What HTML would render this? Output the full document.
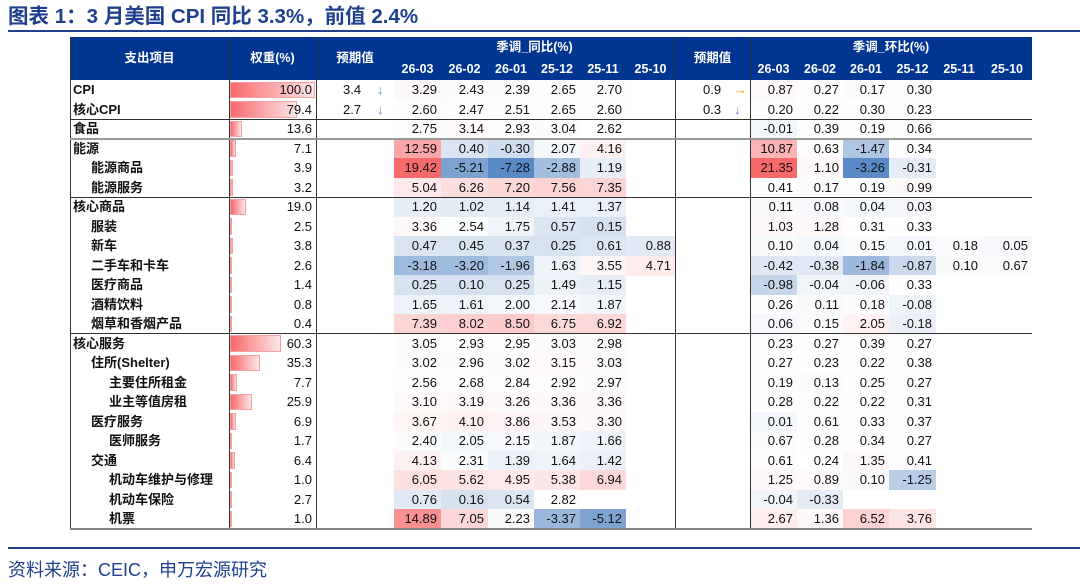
<!DOCTYPE html>
<html><head><meta charset="utf-8">
<style>
body{margin:0;width:1080px;height:588px;background:#fff;position:relative;overflow:hidden;font-family:"Liberation Sans","Noto Sans CJK SC",sans-serif;}
.a{position:absolute;box-sizing:border-box;}
.t{position:absolute;font-size:13px;color:#111;line-height:19.5px;white-space:nowrap;}
.h{position:absolute;color:#fff;font-weight:bold;font-size:12.5px;text-align:center;line-height:20px;}
</style></head><body>
<div class="a" style="left:8px;top:3px;font-size:20.5px;font-weight:bold;color:#1f3f8f;line-height:28px;white-space:nowrap;">图表 1：3 月美国 CPI 同比 3.3%，前值 2.4%</div>
<div class="a" style="left:8px;top:30px;width:1072px;height:2px;background:#1f3f8f"></div>
<div class="a" style="left:70px;top:37px;width:962px;height:43px;background:#003591"></div>
<div class="h" style="left:70px;top:48px;width:159px">支出项目</div>
<div class="h" style="left:229px;top:48px;width:87px">权重(%)</div>
<div class="h" style="left:316px;top:48px;width:78px">预期值</div>
<div class="h" style="left:394px;top:37px;width:281px">季调_同比(%)</div>
<div class="h" style="left:675px;top:48px;width:75px">预期值</div>
<div class="h" style="left:750px;top:37px;width:282px">季调_环比(%)</div>
<div id="tbl"></div>
<div class="a" style="left:8px;top:547px;width:1072px;height:2px;background:#1f3f8f"></div>
<div class="a" style="left:8px;top:557px;font-size:18px;color:#1f3f8f;line-height:26px;white-space:nowrap;">资料来源：CEIC，申万宏源研究</div>
<script>
const dates=["26-03","26-02","26-01","25-12","25-11","25-10"];
const names=["CPI","核心CPI","食品","能源","能源商品","能源服务","核心商品","服装","新车","二手车和卡车","医疗商品","酒精饮料","烟草和香烟产品","核心服务","住所(Shelter)","主要住所租金","业主等值房租","医疗服务","医师服务","交通","机动车维护与修理","机动车保险","机票"];
const levels=[0,0,0,0,1,1,0,1,1,1,1,1,1,0,1,2,2,1,2,1,2,2,2];
const weights=[100.0,79.4,13.6,7.1,3.9,3.2,19.0,2.5,3.8,2.6,1.4,0.8,0.4,60.3,35.3,7.7,25.9,6.9,1.7,6.4,1.0,2.7,1.0];
const expYoy=[[3.4,"↓"],[2.7,"↓"]];
const expMom=[[0.9,"→"],[0.3,"↓"]];
const yoy=[[3.29,2.43,2.39,2.65,2.70],[2.60,2.47,2.51,2.65,2.60],[2.75,3.14,2.93,3.04,2.62],[12.59,0.40,-0.30,2.07,4.16],[19.42,-5.21,-7.28,-2.88,1.19],[5.04,6.26,7.20,7.56,7.35],[1.20,1.02,1.14,1.41,1.37],[3.36,2.54,1.75,0.57,0.15],[0.47,0.45,0.37,0.25,0.61,0.88],[-3.18,-3.20,-1.96,1.63,3.55,4.71],[0.25,0.10,0.25,1.49,1.15],[1.65,1.61,2.00,2.14,1.87],[7.39,8.02,8.50,6.75,6.92],[3.05,2.93,2.95,3.03,2.98],[3.02,2.96,3.02,3.15,3.03],[2.56,2.68,2.84,2.92,2.97],[3.10,3.19,3.26,3.36,3.36],[3.67,4.10,3.86,3.53,3.30],[2.40,2.05,2.15,1.87,1.66],[4.13,2.31,1.39,1.64,1.42],[6.05,5.62,4.95,5.38,6.94],[0.76,0.16,0.54,2.82],[14.89,7.05,2.23,-3.37,-5.12]];
const mom=[[0.87,0.27,0.17,0.30],[0.20,0.22,0.30,0.23],[-0.01,0.39,0.19,0.66],[10.87,0.63,-1.47,0.34],[21.35,1.10,-3.26,-0.31],[0.41,0.17,0.19,0.99],[0.11,0.08,0.04,0.03],[1.03,1.28,0.31,0.33],[0.10,0.04,0.15,0.01,0.18,0.05],[-0.42,-0.38,-1.84,-0.87,0.10,0.67],[-0.98,-0.04,-0.06,0.33],[0.26,0.11,0.18,-0.08],[0.06,0.15,2.05,-0.18],[0.23,0.27,0.39,0.27],[0.27,0.23,0.22,0.38],[0.19,0.13,0.25,0.27],[0.28,0.22,0.22,0.31],[0.01,0.61,0.33,0.37],[0.67,0.28,0.34,0.27],[0.61,0.24,1.35,0.41],[1.25,0.89,0.10,-1.25],[-0.04,-0.33],[2.67,1.36,6.52,3.76]];

const T=document.getElementById('tbl');
const top0=80,rowH=19.5;
const yoyX=[394,441,488,534,580,626,675],momX=[750,797,843,889,936,982,1032];
function mk(css,txt,cls){const d=document.createElement('div');d.className=cls||'a';d.style.cssText=css;if(txt!==undefined)d.textContent=txt;T.appendChild(d);return d;}
function stats(arr){const f=arr.flat().slice().sort((a,b)=>a-b);return{min:f[0],max:f[f.length-1],mid:f[Math.floor(f.length/2)]};}
function col(v,s){let r,g,b;if(v>=s.mid){const k=Math.min(1,(v-s.mid)/(s.max-s.mid));r=255+(248-255)*k;g=255+(105-255)*k;b=255+(107-255)*k;}else{const k=Math.min(1,(s.mid-v)/(s.mid-s.min));r=255+(90-255)*k;g=255+(138-255)*k;b=255+(198-255)*k;}return `rgb(${r|0},${g|0},${b|0})`;}
const sY=stats(yoy),sM=stats(mom);
const wx=(w)=>w/100*85;
names.forEach((n,i)=>{
  const y=top0+i*rowH;
  let e=mk(`left:${73+levels[i]*18}px;top:${y}px;font-weight:bold;`,n,'t');
  
  
  e=mk(`left:230px;top:${y+1.5}px;width:${wx(weights[i])}px;height:${rowH-3}px;background:linear-gradient(90deg,#f8696b,#fde6e7);border:1px solid #f3a0a2;`);
  
  
  e=mk(`left:229px;top:${y}px;width:83px;text-align:right;`,weights[i].toFixed(1),'t');
  
  
  if(expYoy[i]){
    e=mk(`left:343px;top:${y}px;width:30px;`,expYoy[i][0].toFixed(1),'t');
    
    
    e=mk(`left:377px;top:${y}px;color:#5b8bd0;`,expYoy[i][1],'t');
    
    
    e=mk(`left:703px;top:${y}px;width:30px;`,expMom[i][0].toFixed(1),'t');
    
    
    e=mk(`left:734px;top:${y}px;color:${expMom[i][1]=="→"?'#f0a500':'#5b8bd0'};`,expMom[i][1],'t');
    
    
  }
  yoy[i].forEach((v,j)=>{
    e=mk(`left:${yoyX[j]}px;top:${y}px;width:${yoyX[j+1]-yoyX[j]}px;height:${rowH+0.5}px;background:${col(v,sY)}`);
    
    
    e=mk(`left:${yoyX[j]}px;top:${y}px;width:${yoyX[j+1]-yoyX[j]-4}px;text-align:right;`,v.toFixed(2),'t');
    
    
  });
  mom[i].forEach((v,j)=>{
    e=mk(`left:${momX[j]}px;top:${y}px;width:${momX[j+1]-momX[j]}px;height:${rowH+0.5}px;background:${col(v,sM)}`);
    
    
    e=mk(`left:${momX[j]}px;top:${y}px;width:${momX[j+1]-momX[j]-4}px;text-align:right;`,v.toFixed(2),'t');
    
    
  });
});
dates.forEach((d,j)=>{
  let e=mk(`left:${yoyX[j]}px;top:59px;width:${yoyX[j+1]-yoyX[j]}px;`,d,'h');
  
  
  e=mk(`left:${momX[j]}px;top:59px;width:${momX[j+1]-momX[j]}px;`,d,'h');
  
  
});
const bottom=top0+names.length*rowH;
[70,229,316,675,750].forEach(x=>{const e=mk(`left:${x}px;top:37px;width:1px;height:${bottom-37}px;background:#333`);
  
  });
[[2,'#333',1],[3,'#999',2],[6,'#333',1],[13,'#333',1],[23,'#888',2]].forEach(([r,c,h])=>{const e=mk(`left:70px;top:${top0+r*rowH-h/2}px;width:962px;height:${h}px;background:${c}`);
  
  });
</script>
</body></html>
